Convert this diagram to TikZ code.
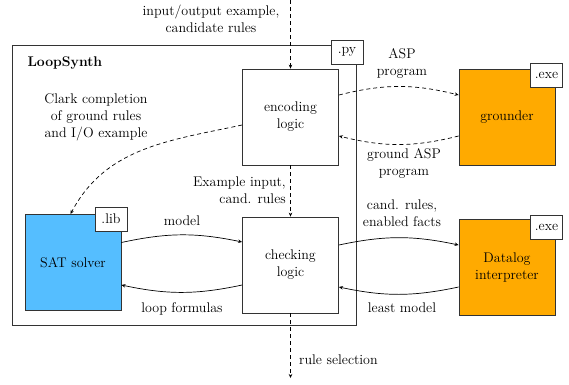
\documentclass[tikz,border=0pt]{standalone}
\usetikzlibrary{arrows.meta}
\definecolor{exeorange}{RGB}{255,170,0}
\definecolor{libblue}{RGB}{85,190,255}
\begin{document}
\begin{tikzpicture}[x=1pt,y=-1pt,
  font=\fontsize{14}{17}\selectfont,
  frame/.style={draw=black!80,line width=0.8pt},
  unit/.style={frame,minimum width=96pt,minimum height=96pt,align=center,inner sep=0pt},
  tag/.style={frame,fill=white,minimum width=32pt,minimum height=24pt,inner sep=0pt},
  flow/.style={line width=0.7pt,-{Stealth[length=4pt,width=3.5pt]}},
  dflow/.style={flow,dash pattern=on 4pt off 3pt},
  lbl/.style={align=center,inner sep=0pt}]
\useasboundingbox (0,0) rectangle (569,384);

% outer LoopSynth module
\node[frame,minimum width=344pt,minimum height=280pt,inner sep=0pt] (loop) at (184,185) {};
\node[anchor=west,font=\fontsize{14}{17}\selectfont\bfseries] (title) at (24,63) {LoopSynth};
\node[tag] (py) at (347,52) {.py};

% processing units
\node[unit] (enc) at (290.5,117) {encoding\\logic};
\node[unit] (chk) at (290.5,265) {checking\\logic};
\node[unit,fill=libblue] (sat) at (73,262.5) {SAT solver};
\node[unit,fill=exeorange] (grd) at (507,117) {grounder};
\node[unit,fill=exeorange] (dat) at (507,267.5) {Datalog\\interpreter};

\node[tag] (libtag) at (111,219) {.lib};
\node[tag] (exe1) at (546.5,75.5) {.exe};
\node[tag] (exe2) at (546.5,227) {.exe};

% main vertical data path
\coordinate (in) at (290.5,0);
\coordinate (out) at (290.5,378);
\draw[dflow] (in) -- (enc.north);
\draw[dflow] (enc.south) -- (chk.north);
\draw[dflow] (chk.south) -- (out);

\node[lbl] (inlbl) at (211,18.5) {input/output example,\\candidate rules};
\node[lbl,anchor=east,align=right] (exlbl) at (286,190.5) {Example input,\\cand. rules};
\node[lbl,anchor=west] (outlbl) at (299,360) {rule selection};

% grounder exchange
\draw[dflow] ([yshift=22pt]enc.east) to[bend left=14] ([yshift=22pt]grd.west);
\draw[dflow] ([yshift=-19pt]grd.west) to[bend left=14] ([yshift=-19pt]enc.east);
\node[lbl] (asp) at (402,63.5) {ASP\\program};
\node[lbl] (gasp) at (404,163.5) {ground ASP\\program};

% Clark completion to SAT solver
\draw[dflow] ([yshift=-8pt]enc.west) to[out=192,in=62] (70.5,214);
\node[lbl] (clark) at (96,117) {Clark completion\\of ground rules\\and I/O example};

% SAT solver exchange
\draw[flow] ([yshift=20pt]sat.east) to[bend left=12] ([yshift=23pt]chk.west);
\draw[flow] ([yshift=-20pt]chk.west) to[bend left=12] ([yshift=-22.5pt]sat.east);
\node[lbl] (model) at (182,221) {model};
\node[lbl] (loopf) at (182,309) {loop formulas};

% Datalog exchange
\draw[flow] ([yshift=20pt]chk.east) to[bend left=12] ([yshift=22.5pt]dat.west);
\draw[flow] ([yshift=-19.5pt]dat.west) to[bend left=12] ([yshift=-22pt]chk.east);
\node[lbl] (cand) at (402,213.5) {cand. rules,\\enabled facts};
\node[lbl] (least) at (402,308) {least model};
\end{tikzpicture}
\end{document}
